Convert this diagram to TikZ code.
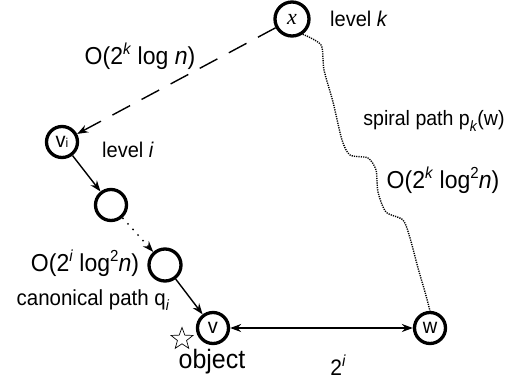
\documentclass[tikz,border=0pt]{standalone}
\usepackage{fontspec}
\setmainfont{Liberation Sans}[FakeStretch=0.94]
\newfontfamily\serifit{Liberation Serif}
\usetikzlibrary{arrows.meta,shapes.geometric}
\newcommand\mysup[1]{\raisebox{0.42em}{\fontsize{16}{16}\selectfont #1}}
\newcommand\mysub[1]{\raisebox{-0.25em}{\fontsize{14.9}{15}\selectfont #1}}
\begin{document}
\begin{tikzpicture}[x=1pt,y=-1pt,
  nd/.style={circle,draw,line width=3.3pt,minimum size=31pt,inner sep=0pt,font=\fontsize{21.3}{24}\selectfont},
  big/.style={font=\fontsize{24.5}{28}\selectfont,inner sep=0pt},
  mid/.style={font=\fontsize{20.8}{24}\selectfont,inner sep=0pt},
  tip/.style={-{Stealth[length=11pt,width=8pt]}},
  conn/.style={line width=1.4pt,tip},
]
\useasboundingbox (0,0) rectangle (522,381);
\node[nd,minimum size=34pt] (x) at (292,19) {\fontsize{22}{24}\selectfont\serifit\itshape x};
\node[nd] (vi) at (62,142) {v{\fontsize{12.8}{15}\selectfont i}};
\node[nd] (c2) at (111,205) {};
\node[nd,minimum size=32pt] (c3) at (165,265) {};
\node[nd] (v) at (213,328) {v};
\node[nd] (w) at (430,328) {w};

\draw[conn,dash pattern=on 20pt off 13pt] (x) -- (vi);
\draw[conn] (vi) -- (c2);
\draw[conn,dash pattern=on 1.5pt off 6pt] (c2) -- (c3);
\draw[conn] (c3) -- (v);
\draw[line width=1.4pt,{Stealth[length=11pt,width=8pt]}-{Stealth[length=11pt,width=8pt]}] (v) -- (w);

\draw[line width=1.4pt,dash pattern=on 1.2pt off 1.1pt] plot[smooth,tension=0.45] coordinates {(x.-55) (321,45) (324,70) (333,102) (342,140) (350,155) (368,158) (376,170) (378,192) (386,212) (403,220) (410,238) (418,268) (425,292) (w.north)};

\node[mid,font=\fontsize{21.3}{25}\selectfont] (lk) at (359,19) {level \textit{k}};
\node[mid,font=\fontsize{21.3}{25}\selectfont] (li) at (128,150) {level \textit{i}};
\node[big] (o1) at (140,56) {O(2\mysup{\textit{k}} log \textit{n})};
\node[mid] (sp) at (434,121) {spiral path p\mysub{\textit{k}}(w)};
\node[big] (o2) at (443,180) {O(2\mysup{\textit{k}} log\mysup{2}\textit{n})};
\node[big] (o3) at (85,263) {O(2\mysup{\textit{i}} log\mysup{2}\textit{n})};
\node[mid,font=\fontsize{21.8}{25}\selectfont] (cp) at (93,300) {canonical path q\mysub{\textit{i}}};
\node[star,star points=5,star point ratio=2.4,draw,line width=0.7pt,minimum size=23pt,inner sep=0pt] (st) at (182,339) {};
\node[font=\fontsize{26.6}{30}\selectfont,inner sep=0pt] (ob) at (212,362) {object};
\node[font=\fontsize{22.4}{26}\selectfont,inner sep=0pt] (d) at (338,365) {2\mysup{\textit{i}}};
\end{tikzpicture}
\end{document}
